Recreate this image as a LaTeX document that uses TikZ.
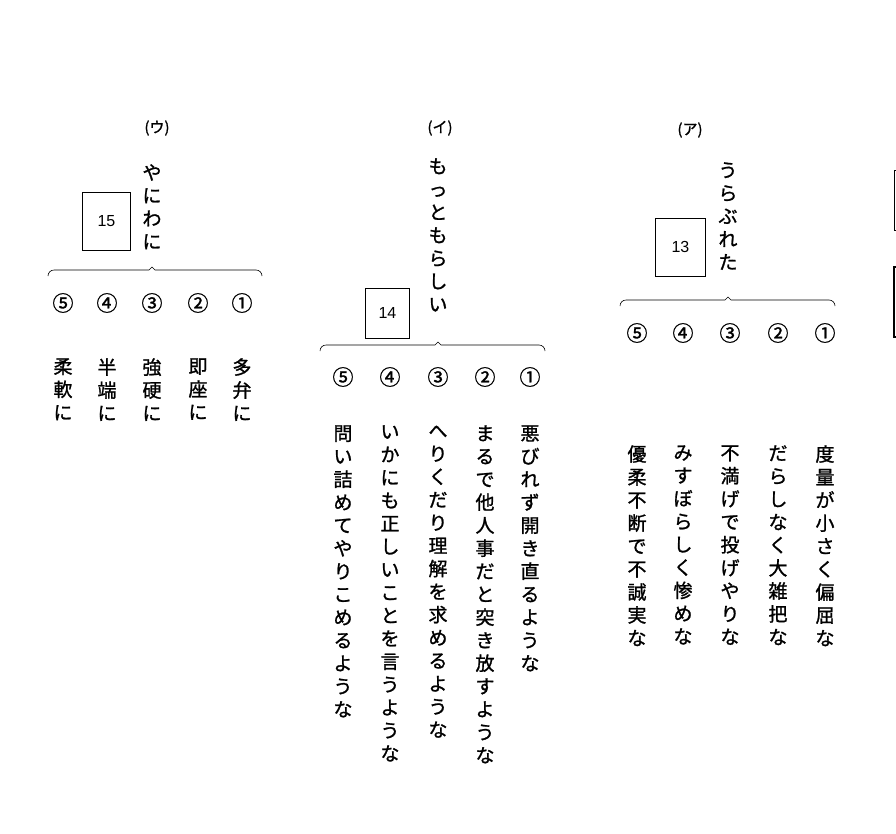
\documentclass[tikz,border=0pt]{standalone}
\usepackage{fontspec}
\setmainfont{Noto Sans CJK JP}[FakeBold=1.2]
\newfontfamily\numfont{Liberation Sans}
\usetikzlibrary{positioning}
\ExplSyntaxOn
\NewDocumentCommand\tate{m}{\vtop{\hsize=1em \baselineskip=23pt \tl_map_inline:nn{#1}{\hbox to 1em{\hss##1\hss}}}}
\ExplSyntaxOff

\begin{document}
\begin{tikzpicture}[x=1pt, y=-1pt, semithick, font=\fontsize{19}{23}\selectfont, vtext/.style={anchor=north, inner sep=0pt}, blank/.style={draw, thick, font=\numfont\fontsize{16}{18}\selectfont, anchor=north west, inner sep=0pt}, tag/.style={font=\fontsize{15}{17}\selectfont}, num/.style={font=\fontsize{21}{23}\selectfont}]
\useasboundingbox (0,0) rectangle (896,833);

% (ア)
\node[tag] (ta) at (690,130) {(ア)};
\node[vtext] (ha) at (728,162) {\tate{うらぶれた}};
\node[blank, minimum width=50pt, minimum height=58pt] (b13) at (655,218) {13};
\draw (620,306) to[out=90,in=180] (626,300) -- (725,300) -- (728,297) -- (731,300) -- (829,300) to[out=0,in=90] (835,306);
\foreach \n/\x in {1/825,2/778,3/730,4/683,5/637}
  \node[num] (na\n) at (\x,333) {\ifcase\n\or ①\or ②\or ③\or ④\or ⑤\fi};
\node[vtext] (ca1) at (825,445) {\tate{度量が小さく偏屈な}};
\node[vtext] (ca2) at (778,445) {\tate{だらしなく大雑把な}};
\node[vtext] (ca3) at (730,445) {\tate{不満げで投げやりな}};
\node[vtext] (ca4) at (683,445) {\tate{みすぼらしく惨めな}};
\node[vtext] (ca5) at (637,445) {\tate{優柔不断で不誠実な}};

% (イ)
\node[tag] (ti) at (440,128) {(イ)};
\node[vtext] (hi) at (438,158) {\tate{もっともらしい}};
\node[blank, minimum width=44pt, minimum height=50pt] (b14) at (365,288) {14};
\draw (320,351) to[out=90,in=180] (326,345) -- (435,345) -- (438,342) -- (441,345) -- (539,345) to[out=0,in=90] (545,351);
\foreach \n/\x in {1/530,2/485,3/438,4/390,5/343}
  \node[num] (ni\n) at (\x,377) {\ifcase\n\or ①\or ②\or ③\or ④\or ⑤\fi};
\node[vtext] (ci1) at (530,425) {\tate{悪びれず開き直るような}};
\node[vtext] (ci2) at (485,425) {\tate{まるで他人事だと突き放すような}};
\node[vtext] (ci3) at (438,425) {\tate{へりくだり理解を求めるような}};
\node[vtext] (ci4) at (390,425) {\tate{いかにも正しいことを言うような}};
\node[vtext] (ci5) at (343,425) {\tate{問い詰めてやりこめるような}};

% (ウ)
\node[tag] (tu) at (157,128) {(ウ)};
\node[vtext] (hu) at (152,164) {\tate{やにわに}};
\node[blank, minimum width=48pt, minimum height=58pt] (b15) at (82,192) {15};
\draw (48,276) to[out=90,in=180] (54,270) -- (149,270) -- (152,267) -- (155,270) -- (256,270) to[out=0,in=90] (262,276);
\foreach \n/\x in {1/242,2/198,3/152,4/107,5/63}
  \node[num] (nu\n) at (\x,303) {\ifcase\n\or ①\or ②\or ③\or ④\or ⑤\fi};
\node[vtext] (cu1) at (242,358) {\tate{多弁に}};
\node[vtext] (cu2) at (198,358) {\tate{即座に}};
\node[vtext] (cu3) at (152,358) {\tate{強硬に}};
\node[vtext] (cu4) at (107,358) {\tate{半端に}};
\node[vtext] (cu5) at (63,358) {\tate{柔軟に}};

% cut-off boxes at the right edge
\draw[thick] (896,170) -- (894,170) -- (894,230) -- (896,230);
\draw[very thick] (896,267) -- (894,267) -- (894,337) -- (896,337);
\end{tikzpicture}
\end{document}
